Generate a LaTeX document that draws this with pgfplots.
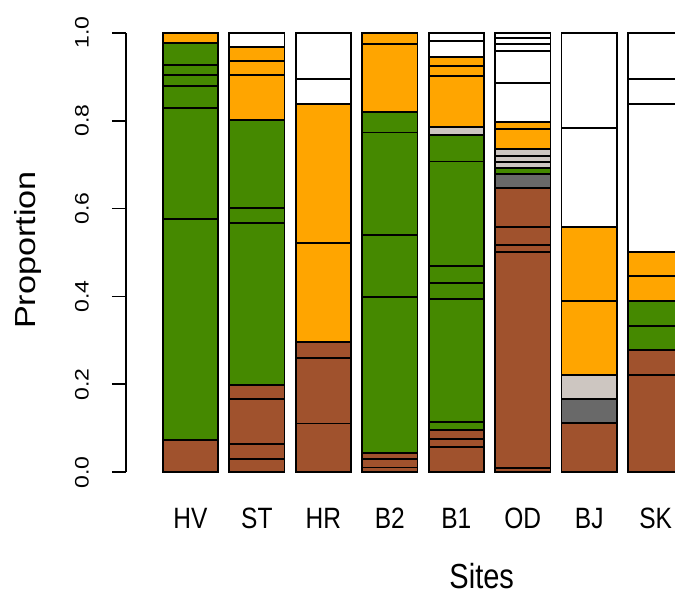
\documentclass[border=0pt]{standalone}
\usepackage{pgfplots}
\pgfplotsset{compat=1.18}
\usepackage{graphicx}
\usepackage{fontspec}
\setmainfont{Liberation Sans}
\definecolor{cgreen}{RGB}{69,137,0}
\definecolor{corange}{RGB}{255,165,0}
\definecolor{cbrown}{RGB}{160,82,45}
\definecolor{clgrey}{RGB}{205,198,193}
\definecolor{cdgrey}{RGB}{105,105,105}
\definecolor{cwhite}{RGB}{255,255,255}
\newcommand{\sx}[1]{\scalebox{1.18}[1]{#1}}
\newcommand{\sy}[1]{\scalebox{1}[1.2]{#1}}
% one segment: bar position, cumulative top, colour (drawn from the top segment down)
\newcommand{\seg}[3]{\addplot[fill=#3] coordinates {(#1,#2)};}
\begin{document}
\begin{tikzpicture}
\useasboundingbox (0,0) rectangle (675pt,594pt);
\begin{axis}[
  at={(126pt,121.7pt)}, anchor=south west,
  scale only axis, width=549.1pt, height=439.6pt,
  xmin=-0.462, xmax=9.45, ymin=0, ymax=1,
  clip=false,
  axis y line*=left, axis x line*=bottom,
  x axis line style={draw=none},
  y axis line style={line width=1.8pt},
  tick align=outside,
  major tick length=14pt,
  xtick style={draw=none},
  ytick style={line width=1.8pt, black},
  ytick={0,0.2,0.4,0.6,0.8,1.0},
  yticklabels={\sx{0.0},\sx{0.2},\sx{0.4},\sx{0.6},\sx{0.8},\sx{1.0}},
  yticklabel style={font=\fontsize{19.5}{19.5}\selectfont, rotate=90, anchor=south, inner sep=0pt},
  yticklabel shift=23pt,
  xtick={0.7,1.9,3.1,4.3,5.5,6.7,7.9,9.1},
  xticklabels={\sy{HV},\sy{ST},\sy{HR},\sy{B2},\sy{B1},\sy{OD},\sy{BJ},\sy{SK}},
  xticklabel style={font=\fontsize{24.5}{24.5}\selectfont, anchor=base, inner sep=0pt, yshift=-42pt},
  xlabel={\sy{Sites}},
  ylabel={\sx{Proportion}},
  every axis x label/.style={at={(axis description cs:0.6478,-0.2632)}, anchor=base, font=\fontsize{29}{29}\selectfont, inner sep=0pt},
  every axis y label/.style={at={(axis description cs:-0.1657,0.5057)}, rotate=90, anchor=base, font=\fontsize{29}{29}\selectfont, inner sep=0pt},
  ybar, bar width=55.4pt, bar shift=0pt,
  every axis plot/.append style={draw=black, line width=1.9pt},
]
% HV
\seg{0.7}{1.0}{corange}
\seg{0.7}{0.977}{cgreen}
\seg{0.7}{0.926}{cgreen}
\seg{0.7}{0.903}{cgreen}
\seg{0.7}{0.878}{cgreen}
\seg{0.7}{0.828}{cgreen}
\seg{0.7}{0.576}{cgreen}
\seg{0.7}{0.073}{cbrown}
% ST
\seg{1.9}{1.0}{cwhite}
\seg{1.9}{0.968}{corange}
\seg{1.9}{0.936}{corange}
\seg{1.9}{0.903}{corange}
\seg{1.9}{0.801}{cgreen}
\seg{1.9}{0.6005}{cgreen}
\seg{1.9}{0.568}{cgreen}
\seg{1.9}{0.1986}{cbrown}
\seg{1.9}{0.166}{cbrown}
\seg{1.9}{0.064}{cbrown}
\seg{1.9}{0.031}{cbrown}
% HR
\seg{3.1}{1.0}{cwhite}
\seg{3.1}{0.894}{cwhite}
\seg{3.1}{0.837}{corange}
\seg{3.1}{0.521}{corange}
\seg{3.1}{0.297}{cbrown}
\seg{3.1}{0.259}{cbrown}
\seg{3.1}{0.111}{cbrown}
% B2
\seg{4.3}{1.0}{corange}
\seg{4.3}{0.974}{corange}
\seg{4.3}{0.820}{cgreen}
\seg{4.3}{0.773}{cgreen}
\seg{4.3}{0.540}{cgreen}
\seg{4.3}{0.3995}{cgreen}
\seg{4.3}{0.0446}{cbrown}
\seg{4.3}{0.030}{cbrown}
\seg{4.3}{0.011}{cbrown}
% B1
\seg{5.5}{1.0}{cwhite}
\seg{5.5}{0.982}{cwhite}
\seg{5.5}{0.945}{corange}
\seg{5.5}{0.925}{corange}
\seg{5.5}{0.902}{corange}
\seg{5.5}{0.786}{clgrey}
\seg{5.5}{0.767}{cgreen}
\seg{5.5}{0.707}{cgreen}
\seg{5.5}{0.469}{cgreen}
\seg{5.5}{0.431}{cgreen}
\seg{5.5}{0.394}{cgreen}
\seg{5.5}{0.115}{cgreen}
\seg{5.5}{0.096}{cbrown}
\seg{5.5}{0.0765}{cbrown}
\seg{5.5}{0.0576}{cbrown}
% OD
\seg{6.7}{1.0}{cwhite}
\seg{6.7}{0.987}{cwhite}
\seg{6.7}{0.974}{cwhite}
\seg{6.7}{0.959}{cwhite}
\seg{6.7}{0.885}{cwhite}
\seg{6.7}{0.796}{corange}
\seg{6.7}{0.780}{corange}
\seg{6.7}{0.735}{clgrey}
\seg{6.7}{0.720}{clgrey}
\seg{6.7}{0.7066}{clgrey}
\seg{6.7}{0.693}{cgreen}
\seg{6.7}{0.6786}{cdgrey}
\seg{6.7}{0.646}{cbrown}
\seg{6.7}{0.557}{cbrown}
\seg{6.7}{0.517}{cbrown}
\seg{6.7}{0.502}{cbrown}
\seg{6.7}{0.0105}{cbrown}
% BJ
\seg{7.9}{1.0}{cwhite}
\seg{7.9}{0.7825}{cwhite}
\seg{7.9}{0.557}{corange}
\seg{7.9}{0.390}{corange}
\seg{7.9}{0.221}{clgrey}
\seg{7.9}{0.166}{cdgrey}
\seg{7.9}{0.1115}{cbrown}
% SK
\seg{9.1}{1.0}{cwhite}
\seg{9.1}{0.894}{cwhite}
\seg{9.1}{0.837}{cwhite}
\seg{9.1}{0.502}{corange}
\seg{9.1}{0.4466}{corange}
\seg{9.1}{0.390}{cgreen}
\seg{9.1}{0.3335}{cgreen}
\seg{9.1}{0.278}{cbrown}
\seg{9.1}{0.2213}{cbrown}
\end{axis}
\end{tikzpicture}
\end{document}
